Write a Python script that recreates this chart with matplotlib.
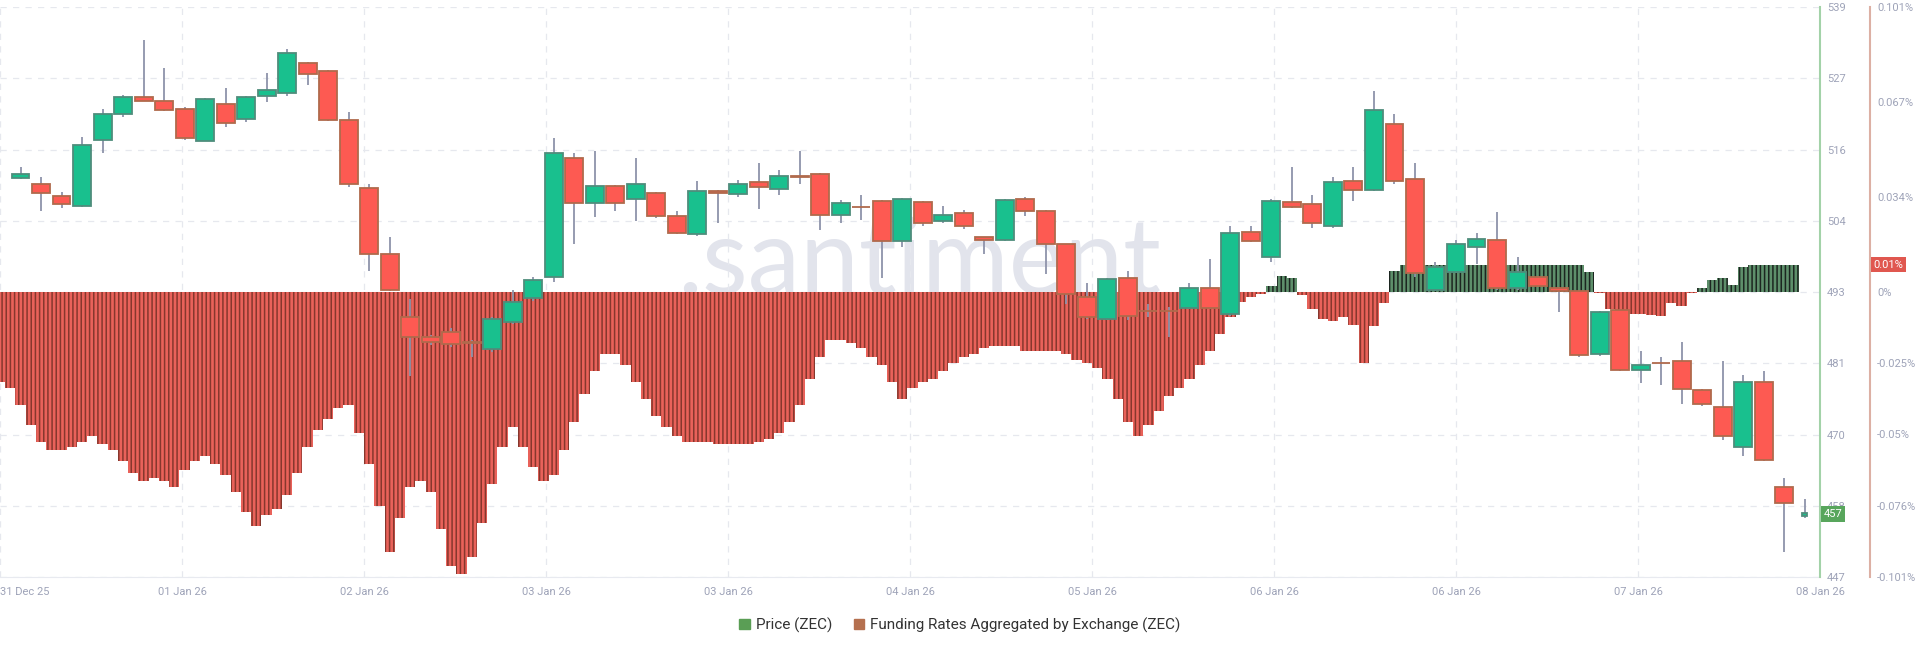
import datetime as dt
import numpy as np
import matplotlib
matplotlib.use("Agg")
import matplotlib.pyplot as plt
import matplotlib.transforms as mtransforms
from matplotlib.patches import Patch

plt.rcParams['font.family'] = ['Roboto', 'DejaVu Sans']
plt.rcParams['hatch.linewidth'] = 1.1

# ZEC price, 2h candles
opens = [511.4, 510.4, 508.5, 506.9, 517.6, 521.8, 524.4, 523.8, 522.6, 517.4,
         523.3, 520.9, 524.6, 525.2, 530.0, 528.6, 520.8, 509.8, 499.2, 489.0,
         485.7, 486.5, 484.9, 483.8, 488.2, 492.0, 495.5, 514.6, 507.4, 510.1,
         508.0, 509.0, 505.2, 502.3, 509.3, 508.8, 510.7, 509.6, 511.7, 512.0,
         505.4, 506.8, 507.7, 501.2, 507.6, 504.5, 505.7, 501.8, 501.4, 508.0,
         506.1, 500.7, 492.2, 488.7, 495.2, 490.0, 490.0, 490.4, 493.7, 489.4,
         502.7, 498.6, 507.6, 507.2, 503.6, 510.9, 509.5, 520.1, 511.3, 493.4,
         496.3, 500.2, 501.4, 493.6, 495.4, 493.6, 493.1, 483.0, 490.1, 480.4,
         481.6, 481.8, 477.2, 474.4, 468.0, 478.5, 461.5, 456.9]
highs = [513.2, 511.6, 509.2, 518.0, 522.6, 524.8, 533.7, 529.2, 522.8, 524.3,
         525.9, 524.7, 528.4, 532.2, 530.2, 528.8, 522.1, 510.4, 501.8, 491.9,
         486.0, 487.2, 485.3, 489.0, 493.3, 495.5, 517.8, 515.4, 515.7, 510.3,
         514.6, 509.1, 506.0, 510.9, 509.4, 511.1, 513.8, 512.7, 515.8, 512.2,
         507.9, 508.7, 507.9, 508.2, 507.7, 506.9, 506.3, 501.9, 508.0, 508.3,
         506.3, 500.8, 494.5, 495.3, 496.4, 491.0, 490.5, 494.5, 498.4, 503.7,
         503.7, 508.0, 513.2, 508.7, 511.5, 513.1, 525.4, 521.7, 513.9, 497.9,
         501.4, 502.6, 505.9, 498.7, 495.6, 493.8, 493.3, 490.0, 490.3, 483.4,
         482.5, 485.0, 477.4, 481.8, 479.6, 480.3, 463.0, 459.6]
lows = [511.3, 506.1, 506.5, 506.7, 515.4, 521.3, 523.8, 522.2, 517.5, 517.3,
        519.7, 520.5, 523.7, 524.6, 526.4, 520.6, 510.0, 496.4, 493.2, 479.5,
        484.5, 484.2, 482.5, 483.3, 487.8, 491.6, 494.6, 500.7, 505.1, 506.0,
        504.4, 505.0, 502.4, 502.0, 504.1, 508.4, 506.4, 508.7, 510.4, 503.0,
        504.1, 504.6, 495.2, 500.2, 503.6, 504.2, 503.1, 499.2, 501.2, 505.2,
        495.9, 491.0, 488.7, 488.5, 488.5, 489.0, 485.8, 490.2, 490.2, 489.2,
        501.0, 497.8, 506.6, 503.3, 503.3, 507.7, 509.3, 510.5, 495.5, 493.2,
        496.0, 497.5, 493.4, 493.4, 493.8, 489.7, 482.5, 482.6, 480.2, 478.3,
        478.0, 474.9, 474.6, 469.1, 466.5, 465.7, 451.1, 456.5]
closes = [512.1, 509.0, 507.2, 516.7, 521.7, 524.4, 523.9, 522.4, 517.8, 524.1,
          520.3, 524.4, 525.6, 531.5, 528.2, 520.8, 510.4, 499.2, 493.4, 485.7,
          484.9, 484.6, 484.8, 488.6, 491.4, 494.9, 515.4, 507.3, 510.1, 507.3,
          510.4, 505.3, 502.6, 509.3, 508.9, 510.4, 509.9, 511.7, 511.6, 505.4,
          507.4, 506.7, 501.2, 508.0, 504.2, 505.4, 503.7, 501.4, 507.9, 506.1,
          500.7, 492.6, 488.9, 495.1, 489.1, 489.9, 489.9, 493.7, 490.4, 502.6,
          501.2, 507.7, 506.8, 504.2, 510.7, 509.5, 522.3, 510.9, 496.0, 497.1,
          500.7, 501.6, 493.6, 496.3, 494.0, 493.1, 482.8, 489.8, 480.4, 481.2,
          481.5, 477.3, 474.9, 469.8, 478.5, 465.9, 459.0, 457.3]

# funding rate aggregated by exchange, hourly, in %
funding = [
    -0.032, -0.034, -0.040, -0.047, -0.053, -0.056, -0.056, -0.055, -0.053, -0.051,
    -0.054, -0.056, -0.060, -0.064, -0.067, -0.066, -0.067, -0.069, -0.063, -0.060,
    -0.058, -0.061, -0.065, -0.071, -0.078, -0.083, -0.079, -0.077, -0.072, -0.064,
    -0.055, -0.049, -0.045, -0.041, -0.040, -0.050, -0.061, -0.076, -0.092, -0.080,
    -0.069, -0.067, -0.071, -0.084, -0.097, -0.100, -0.094, -0.082, -0.068, -0.055,
    -0.048, -0.055, -0.062, -0.067, -0.065, -0.056, -0.046, -0.036, -0.028, -0.022,
    -0.022, -0.026, -0.032, -0.038, -0.044, -0.048, -0.051, -0.053, -0.053, -0.053,
    -0.054, -0.054, -0.054, -0.054, -0.053, -0.052, -0.050, -0.046, -0.040, -0.031,
    -0.023, -0.017, -0.017, -0.018, -0.020, -0.023, -0.026, -0.032, -0.038, -0.034,
    -0.032, -0.031, -0.028, -0.025, -0.023, -0.022, -0.020, -0.019, -0.019, -0.019,
    -0.021, -0.021, -0.021, -0.021, -0.022, -0.024, -0.025, -0.027, -0.031, -0.038,
    -0.046, -0.051, -0.047, -0.042, -0.037, -0.034, -0.031, -0.026, -0.021, -0.015,
    -0.009, -0.0035, -0.0018, -0.0006, 0.002, 0.0055, 0.005, -0.0012, -0.006, -0.0095,
    -0.0102, -0.009, -0.0118, -0.025, -0.012, -0.004, 0.0075, 0.0096, 0.0097, 0.0097,
    0.0097, 0.0097, 0.0097, 0.0097, 0.0097, 0.0097, 0.0097, 0.0097, 0.0097, 0.0097,
    0.0097, 0.0097, 0.0097, 0.0097, 0.0097, 0.0072, -0.0003, -0.0062, -0.0073, -0.0078,
    -0.0078, -0.008, -0.0085, -0.004, -0.0048, -0.0005, 0.0015, 0.0043, 0.005, 0.0025,
    0.0088, 0.0097, 0.0097, 0.0097, 0.0097, 0.0097]

start = dt.datetime(2025, 12, 31, 21, 0)
span_hours = 177.5
price_ticks = [447, 458.5, 470, 481.5, 493, 504.5, 516, 527.5, 539]
price_labels = ['447', '458', '470', '481', '493', '504', '516', '527', '539']
fund_ticks = [-0.101, -0.07575, -0.0505, -0.02525, 0, 0.03367, 0.06733, 0.101]
fund_labels = ['-0.101%', '-0.076%', '-0.05%', '-0.025%', '0%', '0.034%', '0.067%', '0.101%']
last_price = 457.2
last_funding = 0.0097

GREEN, GREEN_EDGE = '#19c08e', '#4f8d7c'
RED, RED_EDGE = '#fd5a52', '#b06a4c'
WICK = '#8e93aa'
LABEL = '#9ea3b8'

fig = plt.figure(figsize=(19.2, 6.5), dpi=100)
rect = [0, 1 - 577 / 650, 1820 / 1920, 570 / 650]
ax = fig.add_axes(rect)
axf = ax.twinx()
axp = ax.twinx()

# base axes: grid, dates, watermark
ax.set_xlim(0, span_hours)
ax.set_ylim(447, 539)
ax.set_yticks(price_ticks)
ax.tick_params(axis='y', left=False, labelleft=False, right=False, labelright=False)
xt = np.linspace(0, span_hours, 11)
ax.set_xticks(xt)
ax.set_xticklabels([(start + dt.timedelta(hours=float(h))).strftime('%d %b %y') for h in xt])
ax.tick_params(axis='x', length=0, pad=7, labelsize=8, labelcolor=LABEL)
ax.get_xticklabels()[0].set_ha('left')
ax.grid(True, color='#e6e8ee', linestyle=(0, (5, 5)), linewidth=0.9)
for s in ['left', 'top', 'right']:
    ax.spines[s].set_visible(False)
ax.spines['bottom'].set_color('#e8eaf0')
ax.text(0.505, 0.497, '.santiment', transform=ax.transAxes, ha='center', va='baseline',
        fontsize=76, color='#e2e4ec', family=['Lato', 'DejaVu Sans'], zorder=0)

# funding rate histogram
fx = np.arange(len(funding))
fvals = np.array(funding)
neg = fvals < 0
axf.bar(fx[neg], fvals[neg], width=1.0, color='#e9625a', edgecolor='#86372d',
        linewidth=0, hatch='||||', zorder=2)
axf.bar(fx[~neg], fvals[~neg], width=1.0, color='#5e8f6b', edgecolor='#1c2620',
        linewidth=0, hatch='||||', zorder=2)
axf.set_ylim(-0.101, 0.101)
axf.set_yticks(fund_ticks)
axf.set_yticklabels(fund_labels)
axf.tick_params(axis='y', length=0, pad=5, labelsize=8, labelcolor=LABEL)
for s in ['left', 'top', 'bottom']:
    axf.spines[s].set_visible(False)
axf.spines['right'].set_position(('outward', 36))
axf.spines['right'].set_color('#dcb0a4')
axf.spines['right'].set_linewidth(1.5)

# price candles
n = len(opens)
cx = 2 + 2 * np.arange(n)
o, h, l, c = map(np.array, (opens, highs, lows, closes))
up = c >= o
widths = np.full(n, 1.75)
widths[-1] = 0.5
axp.vlines(cx, l, h, color=WICK, linewidth=1.3, zorder=3)
body = np.maximum(np.abs(c - o), 0.08)
axp.bar(cx[up], body[up], bottom=np.minimum(o, c)[up], width=widths[up],
        color=GREEN, edgecolor=GREEN_EDGE, linewidth=1.3, zorder=4)
axp.bar(cx[~up], body[~up], bottom=np.minimum(o, c)[~up], width=widths[~up],
        color=RED, edgecolor=RED_EDGE, linewidth=1.3, zorder=4)
axp.set_xlim(0, span_hours)
axp.set_ylim(447, 539)
axp.set_yticks(price_ticks)
axp.set_yticklabels(price_labels)
axp.tick_params(axis='y', length=0, pad=5, labelsize=8, labelcolor=LABEL)
for s in ['left', 'top', 'bottom']:
    axp.spines[s].set_visible(False)
axp.spines['right'].set_color('#a3d2a8')
axp.spines['right'].set_linewidth(1.5)

# last value tags
tp = mtransforms.blended_transform_factory(axp.transAxes, axp.transData)
axp.text(1.002, last_price, '457', transform=tp, ha='left', va='center', color='white',
         fontsize=8, clip_on=False, zorder=10,
         bbox=dict(boxstyle='square,pad=0.25', fc='#58a65c', ec='none'))
tf = mtransforms.blended_transform_factory(axf.transAxes, axf.transData)
axf.text(1.0295, last_funding, '0.01%', transform=tf, ha='left', va='center', color='white',
         fontsize=8, clip_on=False, zorder=10,
         bbox=dict(boxstyle='square,pad=0.25', fc='#e0574f', ec='none'))

handles = [Patch(color='#5a9e55'), Patch(color='#b5704f')]
fig.legend(handles, ['Price (ZEC)', 'Funding Rates Aggregated by Exchange (ZEC)'],
           loc='center', bbox_to_anchor=(0.5, 1 - 625 / 650), ncol=2, frameon=False,
           fontsize=11, handlelength=0.7, handleheight=0.7, handletextpad=0.4,
           columnspacing=1.4, labelcolor='#333333')

fig.savefig('out.png', dpi=100)
